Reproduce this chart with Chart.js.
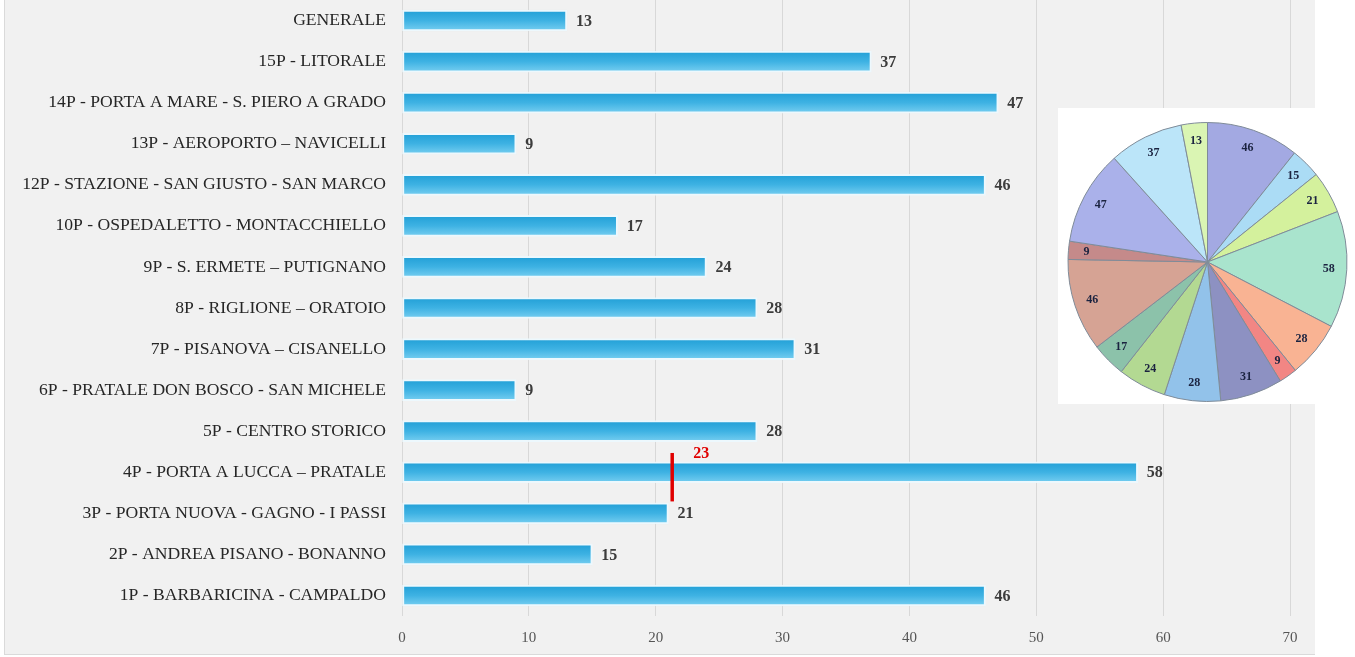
<!DOCTYPE html>
<html>
<head>
<meta charset="utf-8">
<script src="https://cdn.jsdelivr.net/npm/chart.js@4/dist/chart.umd.min.js"></script>
<style>
  html, body { margin: 0; padding: 0; background: #fff; }
  #panel { position: absolute; left: 4px; top: 0; width: 1311px; height: 655px; background: #f1f1f1;
           border-left: 1px solid #dadada; border-bottom: 1px solid #dadada; box-sizing: border-box; }
  #bars { position: absolute; left: 0; top: 0; }
  #piebox { position: absolute; left: 1058px; top: 108px; width: 297px; height: 296px; background: #fff; }
</style>
</head>
<body>
<div id="panel"></div>
<canvas id="bars" width="1315" height="652"></canvas>
<div id="piebox"><canvas id="pie" width="297" height="296"></canvas></div>
<script>
const zones = [
  'GENERALE',
  '15P - LITORALE',
  '14P - PORTA A MARE - S. PIERO A GRADO',
  '13P - AEROPORTO \u2013 NAVICELLI',
  '12P - STAZIONE - SAN GIUSTO - SAN MARCO',
  '10P - OSPEDALETTO - MONTACCHIELLO',
  '9P - S. ERMETE \u2013 PUTIGNANO',
  '8P - RIGLIONE \u2013 ORATOIO',
  '7P - PISANOVA \u2013 CISANELLO',
  '6P - PRATALE DON BOSCO - SAN MICHELE',
  '5P - CENTRO STORICO',
  '4P - PORTA A LUCCA \u2013 PRATALE',
  '3P - PORTA NUOVA - GAGNO - I PASSI',
  '2P - ANDREA PISANO - BONANNO',
  '1P - BARBARICINA - CAMPALDO',
];
const counts = [13, 37, 47, 9, 46, 17, 24, 28, 31, 9, 28, 58, 21, 15, 46];
const xTicks = [0, 10, 20, 30, 40, 50, 60, 70];

// red marker between 4P and 3P
const markerValue = 21.3;
const markerLabel = '23';
const markerFrom = 10.53, markerTo = 11.71;

// pie runs clockwise from 1P
const pieColors = ['#a3a9e2', '#abdcf5', '#d4f19d', '#a9e4cd', '#f9b393', '#f28684', '#8d91c2',
  '#92c2ea', '#b3d992', '#8cc2aa', '#d6a394', '#c58a8a', '#aab1ea', '#bbe5f9', '#daf5b3'];
const pieValues = [...counts].reverse();
const pieLabels = [...zones].reverse();

const serif = '"Liberation Serif", "Times New Roman", serif';

const valueLabels = {
  id: 'valueLabels',
  afterDatasetsDraw(chart) {
    const { ctx } = chart;
    const meta = chart.getDatasetMeta(0);
    ctx.save();
    ctx.font = `bold 16px ${serif}`;
    ctx.fillStyle = '#3c3c3c';
    ctx.textBaseline = 'middle';
    meta.data.forEach((bar, i) => ctx.fillText(counts[i], bar.x + 9, bar.y + 1));
    // marker line
    const x = chart.scales.x.getPixelForValue(markerValue);
    const y1 = chart.scales.y.getPixelForValue(markerFrom);
    const y2 = chart.scales.y.getPixelForValue(markerTo);
    ctx.strokeStyle = '#e00000';
    ctx.lineWidth = 3.5;
    ctx.beginPath(); ctx.moveTo(x, y1); ctx.lineTo(x, y2); ctx.stroke();
    ctx.fillStyle = '#e00000';
    ctx.textAlign = 'center';
    ctx.fillText(markerLabel, x + 29, y1 + 1);
    ctx.restore();
  }
};

new Chart(document.getElementById('bars'), {
  type: 'bar',
  data: { labels: zones, datasets: [{
    data: counts,
    barThickness: 21,
    borderWidth: 2,
    borderColor: 'rgba(236,248,253,0.95)',
    borderSkipped: false,
    backgroundColor: c => {
      const y = c.chart.scales.y;
      if (!y || !c.chart.chartArea) return '#3cb4e4';
      const py = y.getPixelForValue(c.dataIndex);
      const g = c.chart.ctx.createLinearGradient(0, py - 10, 0, py + 10);
      g.addColorStop(0, '#22a0d7');
      g.addColorStop(0.5, '#3eb2e3');
      g.addColorStop(1, '#74cdf0');
      return g;
    },
  }]},
  options: {
    indexAxis: 'y', responsive: false, animation: false,
    layout: { padding: { top: 0, right: 25, bottom: 0, left: 0 } },
    plugins: { legend: { display: false }, tooltip: { enabled: false } },
    scales: {
      x: {
        min: 0, max: 70,
        afterBuildTicks: s => { s.ticks = xTicks.map(v => ({ value: v })); },
        afterFit: s => { s.height = 36; },
        grid: { color: '#d8d8d8', drawTicks: false },
        border: { display: false },
        ticks: { color: '#555555', font: { family: serif, size: 15 }, padding: 13 },
      },
      y: {
        afterFit: s => { s.width = 402; s.paddingTop = 0; s.paddingBottom = 0; },
        grid: { display: false },
        border: { display: false },
        ticks: { color: '#262626', font: { family: serif, size: 17.6 }, padding: 8 },
      },
    },
  },
  plugins: [valueLabels],
});

const pieText = {
  id: 'pieText',
  afterDatasetsDraw(chart) {
    const { ctx } = chart;
    ctx.save();
    ctx.font = `bold 12px ${serif}`;
    ctx.fillStyle = '#1b2340';
    ctx.textAlign = 'center';
    ctx.textBaseline = 'middle';
    chart.getDatasetMeta(0).data.forEach((arc, i) => {
      const a = (arc.startAngle + arc.endAngle) / 2;
      const r = arc.outerRadius * 0.87;
      ctx.fillText(pieValues[i], arc.x + Math.cos(a) * r, arc.y + Math.sin(a) * r);
    });
    ctx.restore();
  }
};

new Chart(document.getElementById('pie'), {
  type: 'pie',
  data: { labels: pieLabels, datasets: [{
    data: pieValues, backgroundColor: pieColors, borderColor: '#7f8b98', borderWidth: 1,
  }]},
  options: {
    responsive: false, animation: false,
    layout: { padding: { left: 9, right: 7, top: 14, bottom: 2 } },
    plugins: { legend: { display: false }, tooltip: { enabled: false } },
  },
  plugins: [pieText],
});
</script>
</body>
</html>
